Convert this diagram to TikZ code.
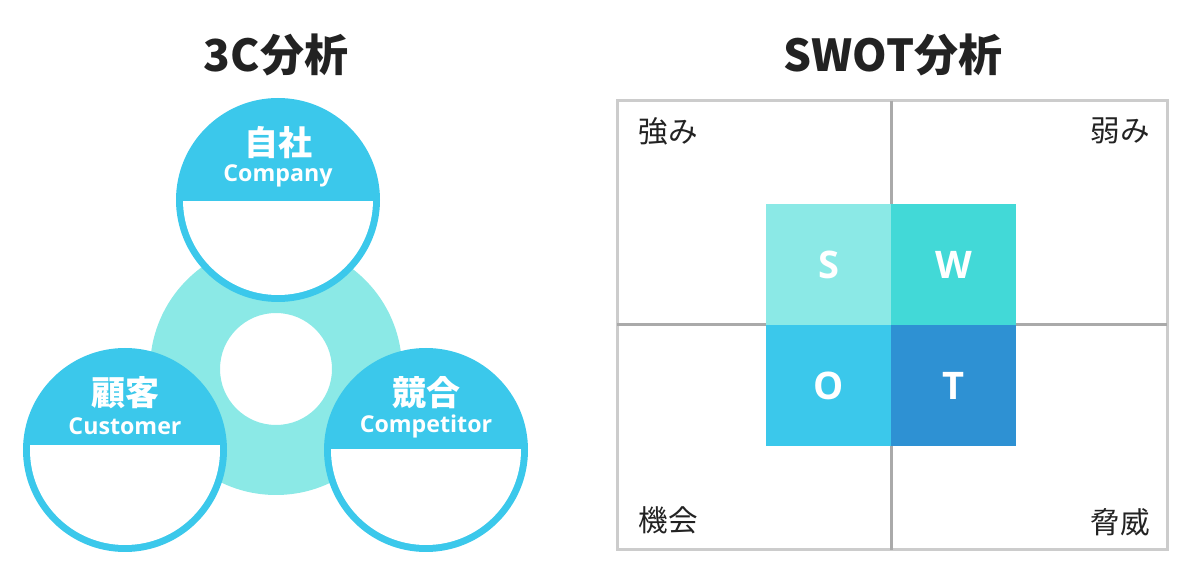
\documentclass[tikz,border=0pt]{standalone}
\usepackage{fontspec}
\setmainfont{Noto Sans CJK JP}
\newfontfamily\latinfont{Open Sans}
\usetikzlibrary{positioning,calc}

\definecolor{cblue}{HTML}{3BC8EB}
\definecolor{cring}{HTML}{8BE9E6}
\definecolor{cs}{HTML}{8BE9E6}
\definecolor{cw}{HTML}{42D9D7}
\definecolor{co}{HTML}{3BC8EB}
\definecolor{ct}{HTML}{2E91D3}
\definecolor{cgrid}{HTML}{CCCCCC}
\definecolor{ccross}{HTML}{AAAAAA}
\definecolor{ctext}{HTML}{222222}

\begin{document}
\begin{tikzpicture}[x=0.5pt, y=-0.5pt, node distance=0pt,
    title/.style={font=\bfseries\fontsize{22}{26}\selectfont, text=ctext},
    jplabel/.style={font=\bfseries\fontsize{17}{20}\selectfont, text=white},
    enlabel/.style={font=\latinfont\bfseries\fontsize{11.6}{14}\selectfont, text=white},
    corner/.style={font=\fontsize{14.8}{18}\selectfont, text=ctext},
    sq/.style={minimum width=62.5pt, minimum height=60.5pt, inner sep=0pt, outer sep=0pt,
      text=white, font=\latinfont\bfseries\fontsize{19}{22}\selectfont}]
\useasboundingbox (0,0) rectangle (1200,587);

% titles
\node[title] (t3c) at (276,55) {3C分析};
\node[title] (tswot) at (893,55) {SWOT分析};

% 3C: ring behind the three circles
\coordinate (hub) at (276,369);
\fill[cring, even odd rule] (hub) circle (126) circle (56);

\foreach \nm/\cx/\cy/\bd/\jp/\en in {company/278/200/1/自社/Company,
    customer/125/450/-5/顧客/Customer, competitor/426/450/-1/競合/Competitor}{
  \coordinate (\nm) at (\cx,\cy);
  \fill[cblue] (\nm) circle (102);
  \begin{scope}
    \clip (\nm) circle (95);
    \fill[white] ($(\nm)+(-100,\bd)$) rectangle ($(\nm)+(100,100)$);
  \end{scope}
  \node[jplabel] (\nm-jp) at ($(\nm)+(0,-57)$) {\jp};
  \node[enlabel] (\nm-en) at ($(\nm)+(0,-24)$) {\en};
}

% SWOT grid
\draw[cgrid, line width=1.5] (617,101) rectangle (1167,550);
\draw[ccross, line width=1.5] (891,101) -- (891,550);
\draw[ccross, line width=1.5] (617,325) -- (1167,325);

\node[sq, fill=cs] (s) at (828.5,265) {S};
\node[sq, fill=cw, right=of s] (w) {W};
\node[sq, fill=co, below=of s] (o) {O};
\node[sq, fill=ct, right=of o] (t) {T};

\node[corner] (strength) at (668,131) {強み};
\node[corner] (weakness) at (1120,131) {弱み};
\node[corner] (opportunity) at (668,520) {機会};
\node[corner] (threat) at (1120,522) {脅威};
\end{tikzpicture}
\end{document}
